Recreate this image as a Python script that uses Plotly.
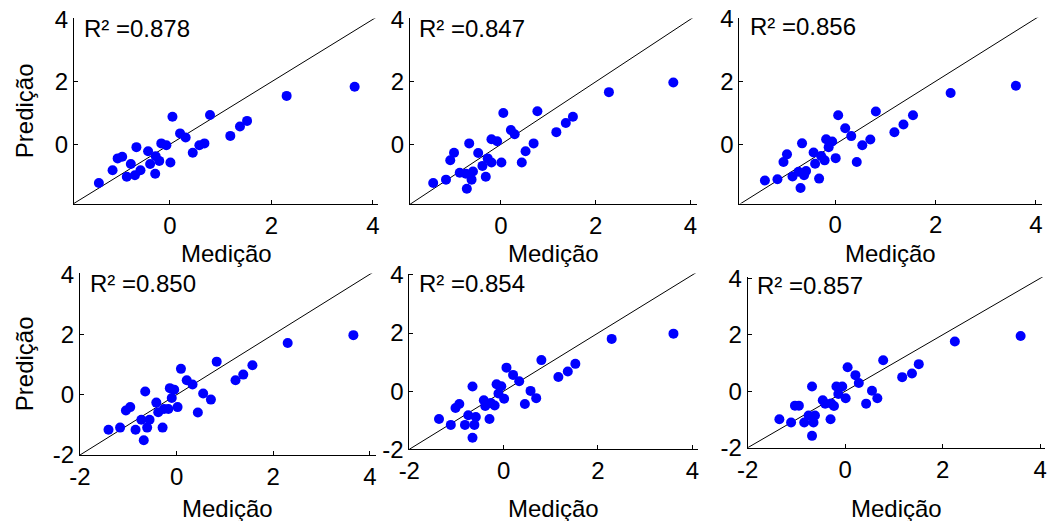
import plotly.graph_objects as go

# ---------------- data ----------------
r2_labels = ["R² =0.878", "R² =0.847", "R² =0.856", "R² =0.850", "R² =0.854", "R² =0.857"]

med_1 = [-1.40, -1.13, -1.03, -0.94, -0.66, -0.77, -0.85, -0.69, -0.58, -0.43, -0.39, -0.29, -0.28, -0.21,
         -0.17, -0.07, 0.01, 0.05, 0.20, 0.31, 0.45, 0.58, 0.68, 0.79, 1.19, 1.38, 1.52, 2.30, 3.64]
pred_1 = [-1.24, -0.83, -0.45, -0.40, -0.09, -0.63, -1.04, -0.99, -0.83, -0.22, -0.63, -0.94, -0.38, -0.53,
          0.03, -0.03, -0.58, 0.88, 0.35, 0.22, -0.27, -0.03, 0.03, 0.94, 0.27, 0.57, 0.75, 1.55, 1.84]

med_2 = [-1.43, -1.16, -1.07, -0.99, -0.67, -0.87, -0.74, -0.62, -0.59, -0.72, -0.48, -0.39, -0.32, -0.28,
         -0.20, -0.20, -0.08, 0.01, 0.05, 0.21, 0.29, 0.44, 0.52, 0.69, 0.77, 1.17, 1.37, 1.52, 2.28, 3.64]
pred_2 = [-1.24, -1.13, -0.51, -0.27, 0.03, -0.91, -0.94, -1.13, -0.87, -1.42, -0.28, -0.69, -1.04, -0.45,
          -0.58, 0.16, 0.10, -0.58, 1.00, 0.46, 0.32, -0.58, -0.22, 0.03, 1.06, 0.39, 0.68, 0.88, 1.67, 1.98]

med_3 = [-1.40, -1.15, -1.03, -0.96, -0.66, -0.85, -0.73, -0.62, -0.58, -0.69, -0.43, -0.40, -0.32, -0.28,
         -0.21, -0.18, -0.13, -0.06, 0.01, 0.06, 0.20, 0.32, 0.43, 0.54, 0.70, 0.81, 1.18, 1.36, 1.55, 2.30, 3.60]
pred_3 = [-1.15, -1.11, -0.56, -0.32, 0.03, -1.02, -0.87, -0.98, -0.85, -1.39, -0.26, -0.62, -1.09, -0.37,
          -0.51, 0.16, -0.09, 0.09, -0.44, 0.92, 0.51, 0.26, -0.56, -0.03, 0.15, 1.04, 0.38, 0.63, 0.92, 1.63, 1.86]

med_4 = [-1.41, -1.17, -1.05, -0.96, -0.65, -0.85, -0.73, -0.61, -0.56, -0.68, -0.42, -0.38, -0.29, -0.26,
         -0.17, -0.14, -0.10, -0.05, 0.02, 0.09, 0.21, 0.33, 0.44, 0.55, 0.71, 0.83, 1.22, 1.38, 1.57, 2.30, 3.66]
pred_4 = [-1.16, -1.09, -0.52, -0.41, 0.11, -1.16, -0.83, -1.09, -0.83, -1.51, -0.26, -0.58, -1.09, -0.47,
          -0.47, 0.22, -0.11, 0.17, -0.41, 0.86, 0.48, 0.34, -0.59, 0.04, -0.16, 1.10, 0.48, 0.67, 0.98, 1.72, 1.98]

med_5 = [-1.37, -1.12, -1.02, -0.94, -0.66, -0.82, -0.75, -0.62, -0.59, -0.66, -0.42, -0.39, -0.30, -0.27,
         -0.19, -0.15, -0.11, -0.05, 0.01, 0.06, 0.20, 0.33, 0.45, 0.57, 0.69, 0.80, 1.16, 1.36, 1.52, 2.29, 3.60]
pred_5 = [-0.96, -1.16, -0.58, -0.44, 0.16, -1.16, -0.83, -1.16, -0.89, -1.60, -0.31, -0.51, -0.96, -0.41,
          -0.49, 0.24, -0.08, 0.17, -0.26, 0.81, 0.56, 0.34, -0.44, 0.01, -0.24, 1.07, 0.49, 0.68, 0.94, 1.80, 1.98]

med_6 = [-1.35, -1.11, -1.03, -0.95, -0.68, -0.84, -0.75, -0.65, -0.62, -0.68, -0.46, -0.41, -0.30, -0.29,
         -0.23, -0.18, -0.14, -0.06, 0.01, 0.05, 0.21, 0.28, 0.43, 0.55, 0.66, 0.78, 1.17, 1.37, 1.51, 2.25, 3.60]
pred_6 = [-0.99, -1.11, -0.51, -0.51, 0.17, -1.11, -0.86, -1.11, -0.86, -1.58, -0.32, -0.44, -0.99, -0.43,
          -0.52, 0.17, -0.10, 0.17, -0.25, 0.85, 0.57, 0.29, -0.44, 0.02, -0.25, 1.10, 0.50, 0.63, 0.96, 1.76, 1.96]

meds = [med_1, med_2, med_3, med_4, med_5, med_6]
preds = [pred_1, pred_2, pred_3, pred_4, pred_5, pred_6]
identity_line = [-2.2, 4.3]
tick_values = [-2, 0, 2, 4]
tick_labels = ["-2", "0", "2", "4"]
x_title = "Medição"
y_title = "Predição"

# ---------------- layout geometry (pixels) ----------------
W, H = 1047, 521
def fx(px):
    return px / W
def fy(py):
    return 1 - py / H

# (x_left, x_right, x_range, y_top, y_bottom, y_range, r2 label position)
panels = [
    (74, 378, (-1.89, 4.10), 18.4, 204, (-1.91, 4.03), (82, 28.5)),
    (410, 697, (-1.92, 4.14), 18.4, 204, (-1.91, 4.03), (417, 28.3)),
    (739.3, 1042, (-1.91, 4.12), 17.7, 203.5, (-1.88, 4.02), (748, 26.7)),
    (80, 375.6, (-2.0, 4.12), 273.4, 455, (-2.0, 4.03), (88, 283.3)),
    (409.3, 698, (-2.0, 4.12), 273.5, 449.3, (-2.0, 4.05), (417, 283.3)),
    (747.7, 1045, (-2.0, 4.10), 277.2, 447.7, (-2.0, 4.04), (755, 285)),
]

FONT = "Liberation Sans, Arial, sans-serif"
fig = go.Figure()
layout = dict(
    width=W, height=H, margin=dict(l=0, r=0, t=0, b=0, pad=0, autoexpand=False),
    paper_bgcolor="white", plot_bgcolor="white", showlegend=False,
    font=dict(family=FONT, color="black", size=24),
)
annotations = []

for i, (xl, xr, xrng, yt, yb, yrng, lab) in enumerate(panels):
    n = "" if i == 0 else str(i + 1)
    xa, ya = "x" + n, "y" + n
    fig.add_trace(go.Scatter(x=identity_line, y=identity_line, mode="lines",
                             line=dict(color="black", width=1), xaxis=xa, yaxis=ya,
                             hoverinfo="skip"))
    fig.add_trace(go.Scatter(x=meds[i], y=preds[i], mode="markers",
                             marker=dict(color="#0000FF", size=10, line=dict(width=0)),
                             xaxis=xa, yaxis=ya))
    axis_common = dict(showgrid=False, zeroline=False, showline=True, linecolor="black",
                       linewidth=1, ticks="inside", ticklen=4, tickcolor="black",
                       tickvals=tick_values, ticktext=tick_labels,
                       tickfont=dict(family=FONT, size=24, color="black"),
                       mirror=False, automargin=False)
    layout["xaxis" + n] = dict(axis_common, domain=[fx(xl), fx(xr)], range=list(xrng),
                               anchor=ya)
    layout["yaxis" + n] = dict(axis_common, domain=[fy(yb), fy(yt)], range=list(yrng),
                               anchor=xa)
    # R² label
    annotations.append(dict(text=r2_labels[i], x=fx(lab[0]), y=fy(lab[1]), xref="paper",
                            yref="paper", xanchor="left", yanchor="middle", showarrow=False,
                            font=dict(family=FONT, size=24, color="black")))
    # x-axis title
    ty = 253.5 if i < 3 else 508.0
    annotations.append(dict(text=x_title, x=fx((xl + xr) / 2), y=fy(ty), xref="paper",
                            yref="paper", xanchor="center", yanchor="middle", showarrow=False,
                            font=dict(family=FONT, size=24, color="black")))
    if i in (0, 3):
        annotations.append(dict(text=y_title, x=fx(24), y=fy((yt + yb) / 2), xref="paper",
                                yref="paper", xanchor="center", yanchor="middle",
                                textangle=-90, showarrow=False,
                                font=dict(family=FONT, size=24, color="black")))

layout["annotations"] = annotations
fig.update_layout(**layout)
fig.write_html("out.html")
